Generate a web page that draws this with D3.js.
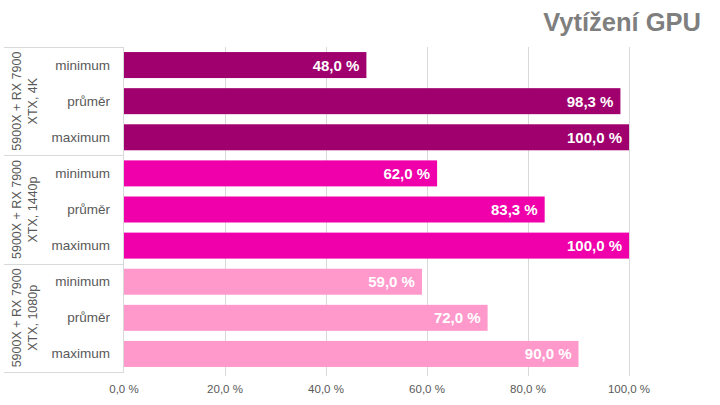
<!DOCTYPE html>
<html><head><meta charset="utf-8">
<script src="https://cdn.jsdelivr.net/npm/d3@7"></script>
<style>body{margin:0;background:#fff}svg{display:block;font-family:Arial,"Liberation Sans",sans-serif}</style>
</head><body><svg id="c" width="720" height="405"></svg>
<script>
const groups = [["5900X + RX 7900", "XTX, 4K"], ["5900X + RX 7900", "XTX, 1440p"], ["5900X + RX 7900", "XTX, 1080p"]];
const rowsLabels = ["minimum", "průměr", "maximum"];
const values4K = [48.0, 98.3, 100.0];
const values1440 = [62.0, 83.3, 100.0];
const values1080 = [59.0, 72.0, 90.0];
const groupColors = ["#A0006E", "#F000AA", "#FF99CC"];
const ticks = [0, 20, 40, 60, 80, 100];
const title = "Vytížení GPU";

(function () {
const allValues = [values4K, values1440, values1080];
const data = [];
allValues.forEach((vals, g) => vals.forEach((v, i) => data.push({g, i, key: g + "-" + i, label: rowsLabels[i], v})));

const svg = d3.select("#c");
const pL = 124, pR = 629, pT = 47, pB = 372;
const x = d3.scaleLinear().domain([0, 100]).range([pL, pR]);
const y = d3.scaleBand().domain(data.map(d => d.key)).range([pT, pB]).paddingInner(0.28).paddingOuter(0.14);
const fmt = v => d3.format(".1f")(v).replace(".", ",") + " %";

svg.append("text").attr("x", 701).attr("y", 31).attr("text-anchor", "end")
  .attr("font-size", 25.5).attr("font-weight", "bold").attr("fill", "#7F7F7F").text(title);

svg.append("g").selectAll("line").data(ticks.slice(1)).join("line")
  .attr("x1", d => x(d) + 0.5).attr("x2", d => x(d) + 0.5).attr("y1", pT).attr("y2", pB + 4)
  .attr("stroke", "#D9D9D9").attr("stroke-width", 1);

svg.append("g").selectAll("text").data(ticks).join("text")
  .attr("x", d => x(d)).attr("y", 393).attr("text-anchor", "middle")
  .attr("font-size", 11.5).attr("fill", "#595959").text(d => fmt(d));

svg.append("g").selectAll("rect").data(data).join("rect")
  .attr("x", x(0)).attr("y", d => y(d.key)).attr("width", d => x(d.v) - x(0)).attr("height", y.bandwidth())
  .attr("fill", d => groupColors[d.g]);

svg.append("g").selectAll("text").data(data).join("text")
  .attr("x", d => x(d.v) - 7).attr("y", d => y(d.key) + y.bandwidth() / 2 + 5.5)
  .attr("text-anchor", "end").attr("font-size", 15).attr("font-weight", "bold").attr("fill", "#fff")
  .text(d => fmt(d.v));

svg.append("line").attr("x1", pL - 0.5).attr("x2", pL - 0.5).attr("y1", pT).attr("y2", pB)
  .attr("stroke", "#D9D9D9");

const sepY = [0, 3, 6, 9].map(k => pT + k * (pB - pT) / 9);
svg.append("g").selectAll("line").data(sepY).join("line")
  .attr("x1", 4).attr("x2", pL).attr("y1", d => Math.round(d) + 0.5).attr("y2", d => Math.round(d) + 0.5)
  .attr("stroke", "#D9D9D9");

svg.append("g").selectAll("text").data(data).join("text")
  .attr("x", 110).attr("y", d => y(d.key) + y.bandwidth() / 2 + 4.5)
  .attr("text-anchor", "end").attr("font-size", 13.5).attr("fill", "#595959").text(d => d.label);

groups.forEach((lines, g) => {
  const cy = (sepY[g] + sepY[g + 1]) / 2;
  const t = svg.append("text").attr("transform", `translate(0,${cy}) rotate(-90)`)
    .attr("text-anchor", "middle").attr("font-size", 12.5).attr("fill", "#595959");
  lines.forEach((l, k) => t.append("tspan").attr("x", 0).attr("y", 21 + k * 15.5).text(l));
});
})();
</script></body></html>
